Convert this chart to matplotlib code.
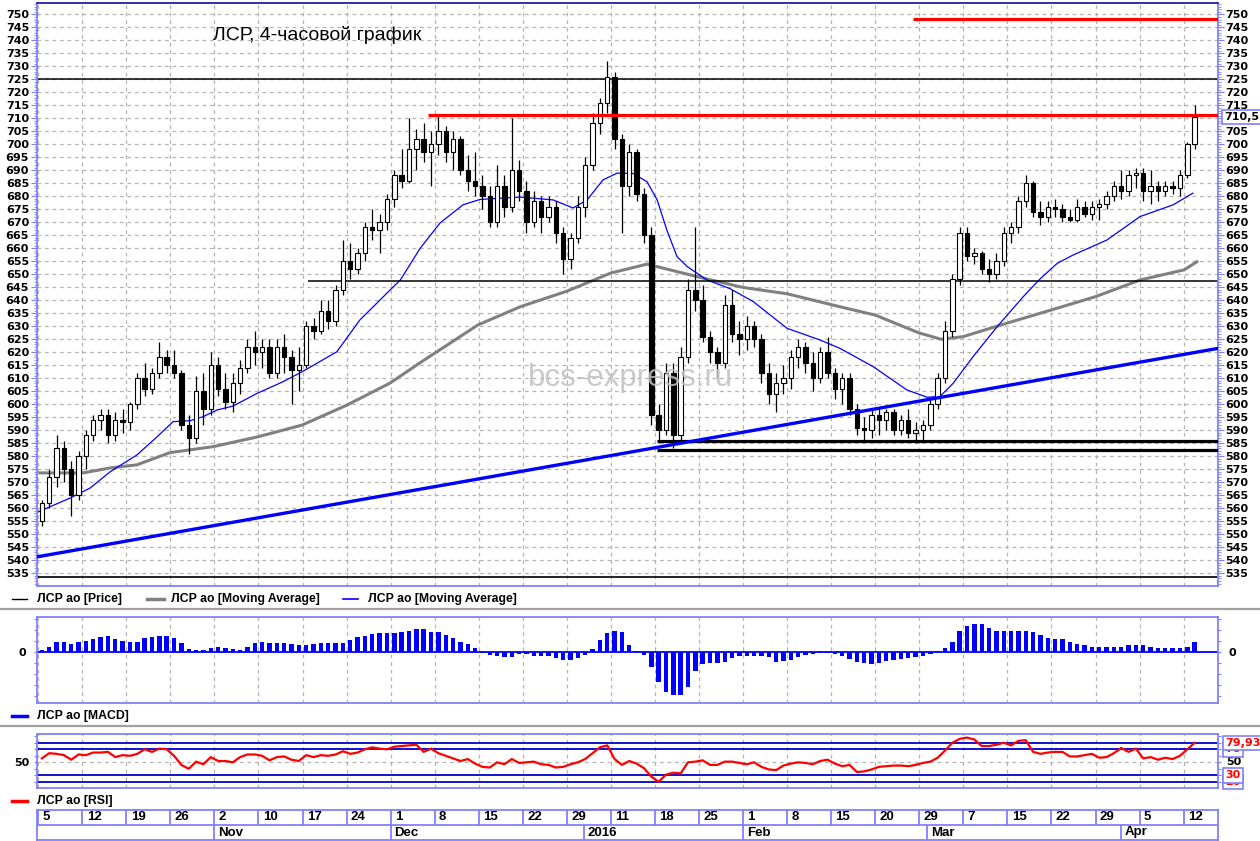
import numpy as np
import matplotlib.pyplot as plt
from matplotlib.lines import Line2D

plt.rcParams['font.family'] = ['Liberation Sans', 'DejaVu Sans']

W, H = 1260, 841

week_labels = ['5', '12', '19', '26', '2', '10', '17', '24', '1', '8', '15', '22', '29',
               '11', '18', '25', '1', '8', '15', '20', '29', '7', '15', '22', '29', '5', '12']
month_labels = ['Nov', 'Dec', '2016', 'Feb', 'Mar', 'Apr']
month_wk = [4, 8, 12.38, 16, 20.18, 24.58]

opens = [
    555, 562, 572, 583, 575, 565,
    580, 588, 594, 596, 588, 594,
    593, 600, 610, 606, 612, 618,
    615, 612, 592, 587, 605, 598,
    615, 606, 601, 608, 614, 622,
    620, 622, 612, 622, 618, 613,
    615, 630, 628, 636, 632, 644,
    655, 652, 658, 668, 667, 670,
    679, 688, 686, 698, 702, 697,
    700, 705, 697, 702, 690, 686,
    684, 680, 670, 684, 676, 690,
    682, 670, 678, 672, 676, 666,
    656, 664, 676, 692, 708, 716,
    726, 702, 684, 697, 681, 665,
    596, 590, 612, 588, 618, 644,
    640, 626, 620, 616, 638, 627,
    625, 630, 625, 612, 604, 608,
    610, 618, 622, 616, 610, 620,
    612, 606, 610, 598, 591, 590,
    596, 594, 597, 590, 594, 589,
    590, 592, 600, 610, 628, 648,
    666, 657, 658, 652, 650, 655,
    666, 668, 678, 685, 674, 672,
    676, 675, 672, 671, 676, 673,
    676, 677, 680, 684, 682, 688,
    689, 682, 684, 682, 684, 683,
    688, 700]
highs = [
    563, 575, 588, 586, 578, 582,
    590, 596, 598, 598, 597, 598,
    601, 612, 616, 614, 624, 621,
    621, 613, 596, 611, 612, 620,
    618, 612, 612, 617, 625, 628,
    625, 625, 625, 627, 621, 622,
    632, 633, 640, 640, 646, 663,
    662, 660, 670, 675, 673, 681,
    690, 698, 710, 706, 708, 705,
    711, 707, 705, 703, 696, 697,
    688, 684, 692, 688, 710, 694,
    686, 682, 680, 680, 678, 668,
    666, 680, 695, 712, 718, 732,
    728, 704, 700, 698, 683, 668,
    600, 616, 616, 622, 648, 668,
    646, 628, 622, 642, 644, 632,
    634, 632, 627, 616, 612, 615,
    621, 625, 624, 620, 622, 626,
    614, 612, 612, 600, 595, 598,
    599, 598, 598, 596, 598, 593,
    594, 602, 612, 632, 650, 668,
    668, 660, 659, 656, 658, 668,
    670, 680, 688, 686, 678, 678,
    679, 677, 675, 679, 678, 678,
    679, 682, 686, 690, 690, 691,
    691, 690, 686, 686, 686, 690,
    701, 715]
lows = [
    553, 560, 568, 570, 557, 563,
    575, 586, 590, 585, 586, 589,
    590, 598, 603, 604, 610, 612,
    610, 590, 581, 585, 592, 596,
    603, 598, 597, 604, 612, 615,
    614, 610, 610, 612, 600, 605,
    614, 625, 627, 629, 630, 642,
    648, 650, 655, 663, 658, 667,
    676, 683, 685, 690, 693, 684,
    696, 693, 690, 688, 682, 680,
    675, 668, 668, 672, 674, 678,
    666, 668, 666, 670, 662, 650,
    652, 662, 672, 690, 704, 712,
    698, 666, 680, 678, 662, 592,
    585, 588, 583, 586, 616, 636,
    624, 616, 610, 614, 624, 619,
    621, 622, 608, 600, 597, 604,
    606, 614, 612, 605, 608, 610,
    602, 600, 596, 588, 586, 587,
    588, 590, 588, 588, 587, 585,
    586, 590, 598, 608, 626, 646,
    655, 654, 650, 647, 648, 653,
    662, 666, 676, 672, 669, 670,
    672, 670, 670, 670, 672, 671,
    671, 675, 678, 679, 680, 683,
    678, 677, 678, 680, 681, 680,
    687, 698]
closes = [
    562, 572, 583, 575, 565, 580,
    588, 594, 596, 588, 594, 593,
    600, 610, 606, 612, 618, 615,
    612, 592, 587, 605, 598, 615,
    606, 601, 608, 614, 622, 620,
    622, 612, 622, 618, 613, 615,
    630, 628, 636, 632, 644, 655,
    652, 658, 668, 667, 670, 679,
    688, 686, 698, 702, 697, 700,
    705, 697, 702, 690, 686, 684,
    680, 670, 684, 676, 690, 682,
    670, 678, 672, 676, 666, 656,
    664, 676, 692, 708, 716, 726,
    702, 684, 697, 681, 665, 596,
    590, 612, 588, 618, 644, 640,
    626, 620, 616, 638, 627, 625,
    630, 625, 612, 604, 608, 610,
    618, 622, 616, 610, 620, 612,
    606, 610, 598, 591, 590, 596,
    594, 597, 590, 594, 589, 590,
    592, 600, 610, 628, 648, 666,
    657, 658, 652, 650, 655, 666,
    668, 678, 685, 674, 672, 676,
    675, 672, 671, 676, 673, 676,
    677, 680, 684, 682, 688, 689,
    682, 684, 682, 684, 683, 688,
    700, 710.5]

# moving averages (position in weeks, price)
slow_wk = [0.04, 1.02, 1.63, 2.24, 2.99, 3.97, 4.99, 5.99, 7.01, 7.99, 8.67, 9.98, 10.94, 12.0, 13.0,
           13.82, 14.98, 15.98, 17.0, 18.2, 19.0, 20.0, 20.5, 20.99, 21.99, 23.0, 24.0, 25.01, 26.01, 26.3]
slow_ma = [573.6, 573.6, 575.5, 576.7, 581.4, 583.7, 587.5, 592, 599.7, 608.2, 616, 630.5, 637.5, 643.5, 650.5,
           653.9, 649, 645, 642.5, 637.5, 634.3, 627.4, 625, 626, 631.2, 636.3, 641.4, 647.8, 651.7, 654.8]
fast_wk = [0.0, 0.27, 0.72, 1.18, 1.63, 2.24, 2.70, 3.06, 3.45, 3.74, 4.06, 4.42, 4.97, 5.56, 5.99,
           6.78, 7.30, 7.99, 8.22, 8.67, 9.12, 9.64, 10.03, 10.94, 11.69, 12.14, 12.46, 12.82, 13.14, 13.50,
           13.82, 14.05, 14.27, 14.50, 14.73, 15.18, 15.70, 16.23, 17.00, 17.75, 18.20, 18.95, 19.72, 20.18,
           20.47, 20.77, 21.22, 21.77, 22.36, 22.74, 23.13, 23.49, 24.26, 25.01, 25.76, 26.21]
fast_ma = [558.6, 560.6, 563.9, 567.8, 574, 580.5, 587.5, 593.3, 593.7, 595.2, 597.8, 599.3, 604.2, 608.7, 612.5,
           620.2, 632.4, 644, 647.8, 660, 669.7, 676.7, 678.8, 679.7, 678.6, 675.5, 678.6, 686.3, 688.9, 688.8,
           685.6, 678.6, 667, 656.8, 653, 647.8, 644.5, 639.5, 629.2, 624.7, 621.5, 614.5, 605.5, 602.7,
           603, 608.1, 618.3, 629.9, 641.4, 648.2, 654.2, 657.4, 663.2, 672.2, 676.7, 681.2]

macd = [
    0.18, 0.46, 0.92, 0.92, 0.73, 0.92,
    1.01, 1.22, 1.36, 1.47, 1.17, 1.04,
    0.94, 0.94, 1.26, 1.35, 1.44, 1.50,
    1.28, 0.83, 0.32, 0.18, 0.18, 0.34,
    0.43, 0.34, 0.25, 0.18, 0.43, 0.80,
    0.92, 0.87, 0.80, 0.78, 0.73, 0.64,
    0.64, 0.69, 0.83, 0.85, 0.85, 0.87,
    1.10, 1.38, 1.51, 1.65, 1.74, 1.77,
    1.77, 1.79, 1.93, 2.08, 2.08, 1.86,
    1.83, 1.56, 1.28, 0.96, 0.69, 0.37,
    -0.05, -0.28, -0.41, -0.43, -0.43, -0.23,
    -0.18, -0.34, -0.34, -0.34, -0.55, -0.73,
    -0.73, -0.55, -0.28, 0.25, 1.10, 1.72,
    1.97, 1.79, 0.64, 0.09, -0.28, -1.38,
    -2.75, -3.67, -3.94, -3.94, -3.21, -1.74,
    -1.10, -0.98, -0.98, -0.92, -0.55, -0.37,
    -0.37, -0.37, -0.37, -0.46, -0.92, -0.87,
    -0.73, -0.50, -0.28, -0.14, -0.12, -0.12,
    -0.23, -0.41, -0.64, -0.92, -1.01, -1.10,
    -1.01, -0.87, -0.73, -0.64, -0.58, -0.50,
    -0.41, -0.23, 0.05, 0.37, 0.92, 1.93,
    2.39, 2.57, 2.57, 2.20, 1.97, 1.93,
    1.93, 1.93, 1.93, 1.83, 1.56, 1.28,
    1.17, 1.15, 0.92, 0.73, 0.60, 0.50,
    0.43, 0.43, 0.43, 0.50, 0.60, 0.64,
    0.60, 0.50, 0.37, 0.34, 0.34, 0.34,
    0.50, 0.90]

rsi = [
    56, 64, 63, 61, 54, 62,
    61, 65, 65, 66, 58, 61,
    60, 63, 70, 66, 71, 70,
    60, 46, 40, 51, 47, 58,
    52, 52, 50, 58, 62, 62,
    60, 53, 58, 59, 54, 52,
    61, 58, 61, 60, 62, 67,
    63, 65, 70, 73, 71, 70,
    74, 75, 76, 77, 66, 71,
    64, 60, 56, 52, 55, 48,
    43, 42, 50, 47, 55, 49,
    50, 51, 47, 46, 42, 43,
    47, 50, 55, 64, 73, 76,
    55, 46, 52, 48, 41, 28,
    20, 31, 34, 33, 50, 51,
    53, 46, 46, 51, 51, 49,
    47, 50, 43, 39, 38, 45,
    48, 50, 49, 47, 52, 54,
    48, 44, 46, 35, 36, 39,
    43, 44, 45, 45, 44, 46,
    49, 51, 57, 68, 80, 86,
    88, 85, 75, 75, 77, 80,
    76, 83, 84, 66, 63, 65,
    66, 66, 59, 59, 61, 63,
    57, 58, 64, 72, 66, 71,
    56, 58, 54, 57, 55, 60,
    70, 79.93]

# drawn levels
trend_wk = [-0.03, 26.78]
trend_val = [541.3, 621.5]
rsi_levels = [79.93, 70, 30, 20]

opens, highs, lows, closes = map(np.array, (opens, highs, lows, closes))
n = len(closes)
xs = np.arange(n) / 6 + 1 / 12
XL = (-0.034, 26.78)

SPINE = '#8080ff'
GRID = dict(color='#b4b4b4', linewidth=0.9, linestyle=(0, (3, 3)))
NUM = dict(family='DejaVu Sans', weight='bold', size=8)


def rect(l, t, r, b):
    return [l / W, 1 - b / H, (r - l) / W, (b - t) / H]


def frame(a):
    for s in a.spines.values():
        s.set_color(SPINE)
        s.set_linewidth(1.3)
    a.set_xlim(*XL)
    a.set_xticks(range(0, 27))
    a.tick_params(axis='x', length=0, labelbottom=False)
    a.grid(True, axis='x', **GRID)
    a.set_axisbelow(True)


fig = plt.figure(figsize=(W / 100, H / 100), dpi=100)

# ---------------- price panel ----------------
ax = fig.add_axes(rect(36.7, 3, 1218, 586))
frame(ax)
ax.spines['top'].set_color('#2020a0')
ax.set_ylim(530.1, 754.35)
ticks = list(range(535, 751, 5))
ax.set_yticks(ticks, [str(v) for v in ticks], **NUM)
ax.set_yticks(np.arange(531, 755), minor=True)
ax.tick_params(axis='y', which='both', direction='out', color=SPINE,
               left=True, right=True, labelleft=True, labelright=True)
ax.tick_params(axis='y', which='major', length=4.3, pad=1.2)
ax.tick_params(axis='y', which='minor', length=2.2)
ax.grid(True, axis='y', which='major', **GRID)

ax.plot(slow_wk, slow_ma, color='#808080', lw=2.2, zorder=2)
ax.plot(fast_wk, fast_ma, color='#0000ff', lw=0.9, zorder=2)

up = closes >= opens
ax.vlines(xs, lows, highs, color='black', lw=0.9, zorder=3)
ax.bar(xs, np.maximum(np.abs(closes - opens), 0.4), bottom=np.minimum(opens, closes),
       width=0.1, color=np.where(up, 'white', 'black'), edgecolor='black', lw=0.8, zorder=4)

ax.hlines(725, *XL, color='black', lw=1.1, zorder=2)
ax.hlines(647.6, 6.13, XL[1], color='black', lw=1.1, zorder=2)
ax.hlines(533.7, *XL, color='black', lw=1.2, zorder=2)
ax.hlines([586, 582.6], 14.05, XL[1], color='black', lw=2.3, zorder=5)
ax.hlines(711.4, 8.85, XL[1], color='#ff0000', lw=2.3, zorder=5)
ax.hlines(748.2, 19.86, XL[1], color='#ff0000', lw=2.3, zorder=5)
ax.plot(trend_wk, trend_val, color='#0000ff', lw=2.4, zorder=5)

ax.text(1.0055, closes[-1], f'{closes[-1]:g}'.replace('.', ','), transform=ax.get_yaxis_transform(),
        ha='left', va='center', clip_on=False, zorder=10, **NUM,
        bbox=dict(boxstyle='square,pad=0.2', fc='white', ec=SPINE, lw=1.2))

fig.text(213 / W, 1 - 35 / H, 'ЛСР, 4-часовой график', fontsize=14, ha='left', va='center')
fig.text(631 / W, 1 - 378 / H, 'bcs-express.ru', fontsize=22.5, color='#c0c0c0', alpha=0.85,
         ha='center', va='center', zorder=10)

# ---------------- MACD panel ----------------
am = fig.add_axes(rect(36.7, 616.7, 1218, 703.3))
frame(am)
am.set_ylim(-4.71, 3.24)
am.set_yticks(range(-4, 4), ['0' if v == 0 else '' for v in range(-4, 4)], **NUM)
am.tick_params(axis='y', direction='out', color=SPINE, length=2.5, pad=5,
               left=True, right=True, labelleft=True, labelright=True)
am.axhline(0, color='#0000ff', lw=1.3, zorder=2)
am.bar(xs, macd, width=0.1, color='#0000ff', zorder=3)

# ---------------- RSI panel ----------------
ar = fig.add_axes(rect(36.7, 734, 1218, 788))
frame(ar)
ar.set_ylim(10.5, 93.5)
rt = list(range(20, 100, 10))
ar.set_yticks(rt, ['50' if v == 50 else '' for v in rt], **NUM)
ar.tick_params(axis='y', direction='out', color=SPINE, length=2.5, pad=3,
               left=True, right=True, labelleft=True, labelright=False)
ar.axhline(50, **GRID)
for lvl in rsi_levels:
    ar.axhline(lvl, color='#0000cc', lw=1.3, zorder=2)
ar.plot(xs, rsi, color='#ff0000', lw=1.6, zorder=4)

yt = ar.get_yaxis_transform()
boxed = [(70, '70', 11), (rsi[-1], f'{rsi[-1]:.2f}'.replace('.', ','), 12), (20, '20', 11), (30, '30', 12)]
for val, lab, z in boxed:
    ar.text(1.006, val, lab, transform=yt, ha='left', va='center', color='#ff0000', clip_on=False,
            zorder=z, **NUM, bbox=dict(boxstyle='square,pad=0.2', fc='white', ec=SPINE, lw=1.2))
ar.text(1.007, 50, '50', transform=yt, ha='left', va='center', clip_on=False, **NUM)

# ---------------- date axis ----------------
ad = fig.add_axes(rect(36.7, 810, 1218, 840))
ad.set_xlim(*XL)
ad.set_ylim(0, 2)
ad.set_xticks([])
ad.set_yticks([])
for s in ad.spines.values():
    s.set_color(SPINE)
    s.set_linewidth(1.3)
ad.axhline(1, color=SPINE, lw=1.3)
ad.vlines(range(len(week_labels)), 1, 2, color=SPINE, lw=1.3)
ad.vlines(month_wk, 0, 1, color=SPINE, lw=1.3)
for k, lab in enumerate(week_labels):
    ad.text(k + 0.1, 1.5, lab, ha='left', va='center', weight='bold', size=9.5)
for wk, lab in zip(month_wk, month_labels):
    ad.text(wk + 0.09, 0.5, lab, ha='left', va='center', weight='bold', size=9.5)

# ---------------- legends and separators ----------------
def legend_item(x0, x1, y, color, lw, label, xt):
    fig.add_artist(Line2D([x0 / W, x1 / W], [1 - y / H] * 2, color=color, lw=lw))
    fig.text(xt / W, 1 - y / H, label, ha='left', va='center', size=8.8, weight='bold')


legend_item(12, 27, 599, 'black', 1, 'ЛСР ао [Price]', 37)
legend_item(147, 164, 599, '#808080', 2.5, 'ЛСР ао [Moving Average]', 171)
legend_item(343, 358, 599, '#0000ff', 1.2, 'ЛСР ао [Moving Average]', 368)
legend_item(12, 27, 716, '#0000ff', 2.5, 'ЛСР ао [MACD]', 37)
legend_item(12, 27, 800.7, '#ff0000', 2.5, 'ЛСР ао [RSI]', 37)
for y in (609.3, 726):
    fig.add_artist(Line2D([0, 1], [1 - y / H] * 2, color='#a0a0a0', lw=1.6))

fig.savefig('out.png', dpi=100)
